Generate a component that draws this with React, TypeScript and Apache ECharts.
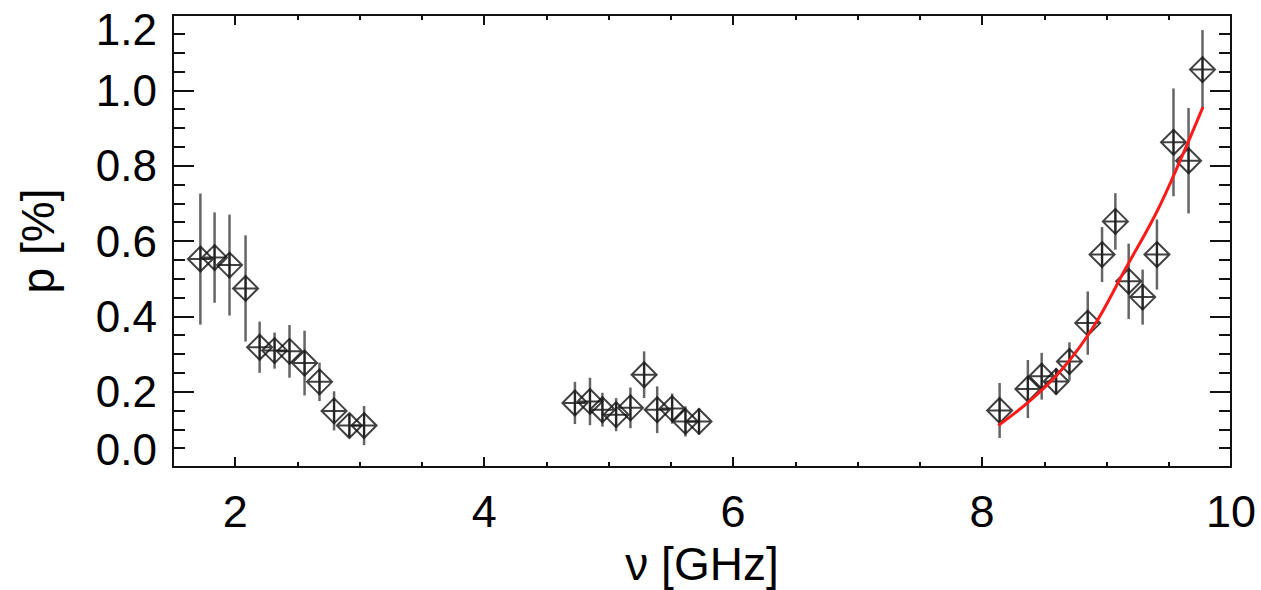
import React, { useEffect, useRef } from "react";
import * as echarts from "echarts";

// Measured frequencies [GHz]
const freq = [
  1.72, 1.834, 1.954, 2.083, 2.196, 2.316, 2.436, 2.557, 2.677, 2.794, 2.917, 3.035,
  4.729, 4.85, 4.95, 5.06, 5.175, 5.285, 5.39, 5.51, 5.617, 5.726,
  8.141, 8.368, 8.479, 8.595, 8.702, 8.849, 8.964, 9.071, 9.178, 9.29, 9.405, 9.538, 9.659, 9.771,
];
// Polarisation fraction [%]
const pol = [
  0.552, 0.556, 0.536, 0.474, 0.318, 0.309, 0.307, 0.276, 0.226, 0.149, 0.11, 0.11,
  0.17, 0.174, 0.152, 0.139, 0.157, 0.245, 0.152, 0.155, 0.121, 0.121,
  0.15, 0.207, 0.241, 0.227, 0.28, 0.382, 0.564, 0.652, 0.493, 0.451, 0.564, 0.862, 0.813, 1.055,
];
// Error (1 sigma)
const polErr = [
  0.174, 0.12, 0.134, 0.141, 0.068, 0.048, 0.07, 0.086, 0.051, 0.052, 0.031, 0.052,
  0.056, 0.063, 0.045, 0.044, 0.054, 0.062, 0.062, 0.04, 0.04, 0.035,
  0.073, 0.077, 0.062, 0.035, 0.051, 0.084, 0.073, 0.075, 0.1, 0.073, 0.093, 0.143, 0.14, 0.105,
];
// Red fit curve
const fitFreq = [8.13, 8.4, 8.65, 8.9, 9.15, 9.4, 9.6, 9.775];
const fitPol = [0.11, 0.18, 0.262, 0.375, 0.525, 0.675, 0.82, 0.956];

// Axis ticks
const xMajorTicks = [2, 4, 6, 8, 10];
const xMinorTicks = [2.5, 3, 3.5, 4.5, 5, 5.5, 6.5, 7, 7.5, 8.5, 9, 9.5];
const xTickLabels = ["2", "4", "6", "8", "10"];

const FONT = "'Liberation Sans', Arial, Helvetica, sans-serif";
const AX = "#111";

export default function App() {
  const ref = useRef<HTMLDivElement>(null);
  useEffect(() => {
    if (!ref.current) return;
    const chart = echarts.init(ref.current, undefined, { renderer: "svg" });
    const gridRect = { left: 173, right: 30, top: 15, bottom: 123, containLabel: false, outerBoundsMode: "none" };
    const hiddenY = (i: number) => ({
      type: "value", gridIndex: i, min: 0, max: 1.2, show: false,
    });
    const xBase = (i: number, pos: string, ticks: number[], len: number, line: boolean) => ({
      type: "value",
      gridIndex: i,
      position: pos,
      min: 1.5,
      max: 10,
      axisLine: { show: line, onZero: false, lineStyle: { color: AX, width: 2 } },
      axisTick: { show: true, inside: true, length: len, customValues: ticks, lineStyle: { color: AX, width: 2 } },
      axisLabel: { show: false },
      splitLine: { show: false },
    });
    const option: any = {
      animation: false,
      backgroundColor: "#fff",
      grid: [0, 1, 2, 3].map(() => ({ ...gridRect })),
      xAxis: [
        {
          ...xBase(0, "bottom", xMajorTicks, 10, true),
          axisLabel: {
            show: true,
            customValues: xMajorTicks,
            formatter: (v: number) => xTickLabels[xMajorTicks.indexOf(v)] ?? String(v),
            fontSize: 45,
            fontFamily: FONT,
            color: "#000",
            margin: 22,
          },
          name: "ν [GHz]",
          nameLocation: "middle",
          nameGap: 74,
          nameTextStyle: { fontSize: 46, fontFamily: FONT, color: "#000" },
        },
        xBase(1, "top", xMajorTicks, 10, true),
        xBase(2, "bottom", xMinorTicks, 5, false),
        xBase(3, "top", xMinorTicks, 5, false),
      ],
      yAxis: [
        {
          type: "value",
          gridIndex: 0,
          position: "left",
          min: 0,
          max: 1.2,
          interval: 0.2,
          axisLine: { show: true, onZero: false, lineStyle: { color: AX, width: 2 } },
          axisTick: { show: true, inside: true, length: 21, lineStyle: { color: AX, width: 2 } },
          minorTick: { show: true, splitNumber: 4, length: 12, lineStyle: { color: AX, width: 2 } },
          splitLine: { show: false },
          minorSplitLine: { show: false },
          axisLabel: {
            fontSize: 44,
            fontFamily: FONT,
            color: "#000",
            margin: 16,
            formatter: (v: number) => {
              const s = v.toFixed(1);
              if (Math.abs(v) < 1e-9) return "{lo|" + s + "}";
              if (Math.abs(v - 1.2) < 1e-9) return "{hi|" + s + "}";
              return s;
            },
            rich: {
              lo: { fontSize: 44, fontFamily: FONT, color: "#000", padding: [0, 0, 36, 0] },
              hi: { fontSize: 44, fontFamily: FONT, color: "#000", padding: [28, 0, 0, 0] },
            },
          },
          name: "p [%]",
          nameLocation: "middle",
          nameGap: 112,
          nameTextStyle: { fontSize: 46, fontFamily: FONT, color: "#000" },
        },
        {
          type: "value",
          gridIndex: 1,
          position: "right",
          min: 0,
          max: 1.2,
          interval: 0.2,
          axisLine: { show: true, onZero: false, lineStyle: { color: AX, width: 2 } },
          axisTick: { show: true, inside: true, length: 21, lineStyle: { color: AX, width: 2 } },
          minorTick: { show: true, splitNumber: 4, length: 12, lineStyle: { color: AX, width: 2 } },
          splitLine: { show: false },
          axisLabel: { show: false },
        },
        hiddenY(2),
        hiddenY(3),
      ],
      series: [
        {
          type: "custom",
          xAxisIndex: 0,
          yAxisIndex: 0,
          z: 2,
          renderItem: (params: any, api: any) => {
            const x = api.value(0);
            const p1 = api.coord([x, api.value(1)]);
            const p2 = api.coord([x, api.value(2)]);
            return {
              type: "line",
              shape: { x1: p1[0], y1: p1[1], x2: p2[0], y2: p2[1] },
              style: { stroke: "rgba(50,50,50,0.75)", lineWidth: 2.5 },
            };
          },
          encode: { x: 0, y: [1, 2] },
          data: freq.map((f, i) => [f, pol[i] - polErr[i], pol[i] + polErr[i]]),
        },
        {
          type: "scatter",
          xAxisIndex: 0,
          yAxisIndex: 0,
          z: 3,
          symbol: "path://M0,-10L10,0L0,10L-10,0ZM-10,0L10,0M0,-10L0,10",
          symbolSize: 25,
          itemStyle: { color: "rgba(0,0,0,0)", borderColor: "#111", borderWidth: 2 },
          data: freq.map((f, i) => [f, pol[i]]),
        },
        {
          type: "line",
          xAxisIndex: 0,
          yAxisIndex: 0,
          z: 4,
          smooth: 0.4,
          showSymbol: false,
          symbol: "none",
          lineStyle: { color: "#ff1a1a", width: 3 },
          data: fitFreq.map((f, i) => [f, fitPol[i]]),
        },
      ],
    };
    chart.setOption(option);
    return () => chart.dispose();
  }, []);
  return (
    <div
      ref={ref}
      style={{ position: "fixed", left: 0, top: 0, width: 1261, height: 590, background: "#fff" }}
    />
  );
}
